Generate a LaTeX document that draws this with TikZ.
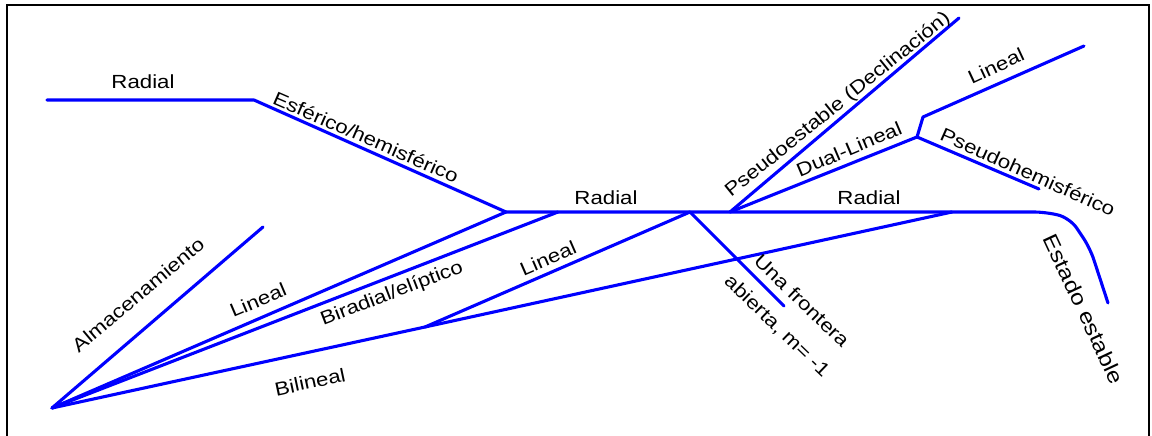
\documentclass[tikz,border=0pt]{standalone}
\usepackage{fontspec}
\setmainfont{Liberation Sans}[FakeStretch=1.17]
\usepackage{tikz}

\begin{document}
\begin{tikzpicture}[x=1pt, y=-1pt,
    rama/.style={blue, line width=3.1pt, line cap=round, line join=round},
    etiqueta/.style={inner sep=0pt, font=\fontsize{19}{24}\selectfont}]
    \useasboundingbox (0,0) rectangle (1152,436);

    % Marco
    \draw[line width=2pt] (7,436) -- (7,5) -- (1149,5) -- (1149,436);

    % Puntos de la red
    \coordinate (R0) at (47,100);
    \coordinate (R1) at (254,100);
    \coordinate (A) at (506,212);
    \coordinate (B) at (690,212);
    \coordinate (D) at (730,212);
    \coordinate (F) at (952,212);
    \coordinate (G) at (1046,212);
    \coordinate (O) at (52,408);
    \coordinate (Alm) at (263,227);
    \coordinate (H) at (558,212);
    \coordinate (C) at (425,327);
    \coordinate (U) at (784,306);
    \coordinate (P) at (959,18);
    \coordinate (E) at (917,137);
    \coordinate (K) at (923,117);
    \coordinate (L) at (1084,46);
    \coordinate (Q) at (1039,189);
    \coordinate (S) at (1108,303);

    % Ramas superiores izquierdas
    \draw[rama] (R0) -- (R1) -- (A);
    \draw[rama, rounded corners=12pt] (A) -- (G) -- (1070,218) -- (1090,248) -- (S);

    % Abanico desde el origen
    \draw[rama] (O) -- (Alm);
    \draw[rama] (O) -- (A);
    \draw[rama] (O) -- (H);
    \draw[rama] (O) -- (C) -- (F);
    \draw[rama] (C) -- (B);
    \draw[rama] (B) -- (U);

    % Ramas superiores derechas
    \draw[rama] (D) -- (P);
    \draw[rama] (D) -- (E) -- (K) -- (L);
    \draw[rama] (E) -- (Q);

    % Etiquetas
    \node[etiqueta] (tRad1) at (143,82) {Radial};
    \node[etiqueta, rotate=-23.6] (tEsf) at (366,137) {Esférico/hemisférico};
    \node[etiqueta] (tRad2) at (606,198) {Radial};
    \node[etiqueta] (tRad3) at (869,198) {Radial};
    \node[etiqueta, rotate=40] (tAlm) at (138,295) {Almacenamiento};
    \node[etiqueta, rotate=23] (tLin1) at (258,300) {Lineal};
    \node[etiqueta, rotate=21] (tBir) at (392,294) {Biradial/elíptico};
    \node[etiqueta, rotate=23.5] (tLin2) at (548,258) {Lineal};
    \node[etiqueta, rotate=12] (tBil) at (310,382) {Bilineal};
    \node[etiqueta, rotate=-44, align=center] (tUna) at (789,314) {Una frontera\\[11pt]abierta, m= -1};
    \node[etiqueta, rotate=39] (tPse) at (838,105) {Pseudoestable (Declinación)};
    \node[etiqueta, rotate=23] (tDual) at (849,149) {Dual-Lineal};
    \node[etiqueta, rotate=25] (tLin3) at (996,66) {Lineal};
    \node[etiqueta, rotate=-24] (tPhem) at (1028,172) {Pseudohemisférico};
    \node[etiqueta, rotate=-65, font=\fontsize{21}{25}\selectfont] (tEst) at (1084,309) {Estado estable};
\end{tikzpicture}
\end{document}
